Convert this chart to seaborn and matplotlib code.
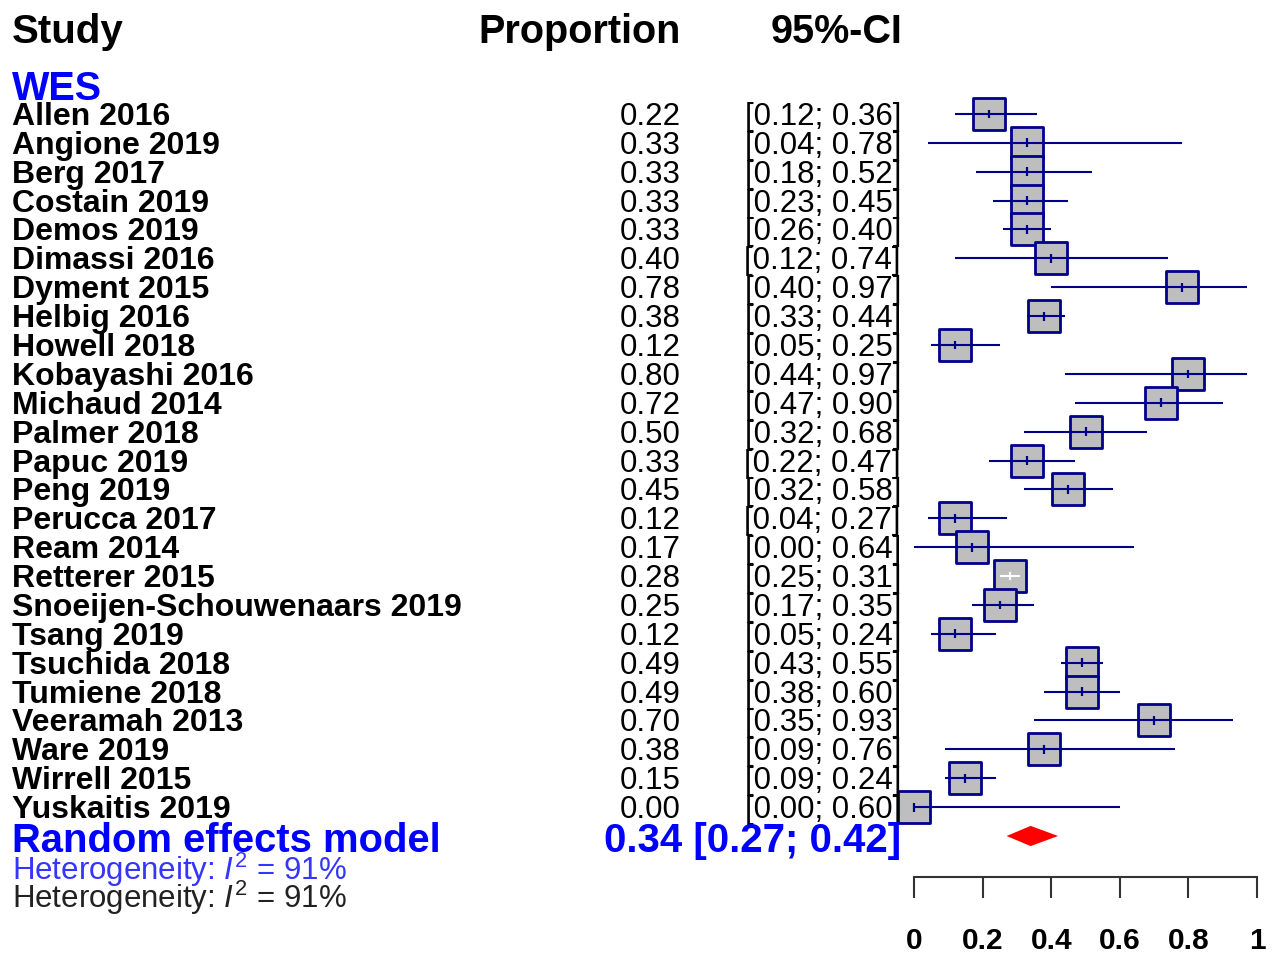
import matplotlib
matplotlib.use("Agg")
import matplotlib.pyplot as plt
import matplotlib.transforms as mtransforms
import seaborn as sns
import pandas as pd
import numpy as np

sns.set_style("white")
plt.rcParams['font.family'] = ['Liberation Sans', 'DejaVu Sans']
plt.rcParams['text.color'] = 'black'
plt.rcParams['xtick.labelcolor'] = 'black'
plt.rcParams['mathtext.fontset'] = 'custom'
plt.rcParams['mathtext.rm'] = 'Liberation Sans'
plt.rcParams['mathtext.it'] = 'Liberation Sans:italic'

# data
studies = ["Allen 2016", "Angione 2019", "Berg 2017", "Costain 2019", "Demos 2019",
           "Dimassi 2016", "Dyment 2015", "Helbig 2016", "Howell 2018", "Kobayashi 2016",
           "Michaud 2014", "Palmer 2018", "Papuc 2019", "Peng 2019", "Perucca 2017",
           "Ream 2014", "Retterer 2015", "Snoeijen-Schouwenaars 2019", "Tsang 2019",
           "Tsuchida 2018", "Tumiene 2018", "Veeramah 2013", "Ware 2019", "Wirrell 2015",
           "Yuskaitis 2019"]
proportion = [0.22, 0.33, 0.33, 0.33, 0.33, 0.40, 0.78, 0.38, 0.12, 0.80, 0.72, 0.50, 0.33,
              0.45, 0.12, 0.17, 0.28, 0.25, 0.12, 0.49, 0.49, 0.70, 0.38, 0.15, 0.00]
ci_lower = [0.12, 0.04, 0.18, 0.23, 0.26, 0.12, 0.40, 0.33, 0.05, 0.44, 0.47, 0.32, 0.22,
            0.32, 0.04, 0.00, 0.25, 0.17, 0.05, 0.43, 0.38, 0.35, 0.09, 0.09, 0.00]
ci_upper = [0.36, 0.78, 0.52, 0.45, 0.40, 0.74, 0.97, 0.44, 0.25, 0.97, 0.90, 0.68, 0.47,
            0.58, 0.27, 0.64, 0.31, 0.35, 0.24, 0.55, 0.60, 0.93, 0.76, 0.24, 0.60]
pooled_est, pooled_lo, pooled_hi = 0.34, 0.27, 0.42
i2_value = 91
subgroup = "WES"
tick_values = [0, 0.2, 0.4, 0.6, 0.8, 1]
tick_labels = ["0", "0.2", "0.4", "0.6", "0.8", "1"]

df = pd.DataFrame({"study": studies, "prop": proportion,
                   "lower": ci_lower, "upper": ci_upper})
df["row"] = np.arange(len(df))
pooled_row = len(df)

W, H = 1273, 956
navy = "#00008B"
blue = "#0000FF"

fig = plt.figure(figsize=(W / 100, H / 100), dpi=100)
ax = fig.add_axes([914 / W, 1 - 877 / H, 343 / W, (877 - 90) / H])
ax.set_xlim(0, 1)
ax.set_ylim(26.42, -0.83)

# box size ~31 px -> half width in data units
half = 31 / 343 / 2
inside = (df["lower"] > df["prop"] - half) & (df["upper"] < df["prop"] + half)
line_col = np.where(inside, "white", navy)

sns.scatterplot(data=df, x="prop", y="row", marker="s", s=500, color="#BEBEBE",
                edgecolor=navy, linewidth=2.0, ax=ax, clip_on=False, zorder=2)
ax.hlines(df["row"], df["lower"], df["upper"], colors=line_col, lw=1.5, zorder=3,
          clip_on=False)
ax.scatter(df["prop"], df["row"], marker="|", s=40, c=line_col, linewidths=1.6,
           zorder=4, clip_on=False)

# pooled estimate diamond
dh = 0.35
ax.fill([pooled_lo, pooled_est, pooled_hi, pooled_est],
        [pooled_row, pooled_row - dh, pooled_row, pooled_row + dh],
        color="red", lw=0, clip_on=False, zorder=3)

for side in ["left", "top", "right"]:
    ax.spines[side].set_visible(False)
ax.spines["bottom"].set_bounds(0, 1)
ax.spines["bottom"].set_color("#333333")
ax.spines["bottom"].set_linewidth(1.5)
ax.set_yticks([])
ax.set_xticks(tick_values, tick_labels)
ax.tick_params(axis="x", bottom=True, direction="out", length=15, width=1.5,
               color="#333333", pad=21, labelsize=21.5)
for lbl in ax.get_xticklabels():
    lbl.set_fontweight("bold")
ax.set_xlabel("")
ax.set_ylabel("")

# text columns
base = mtransforms.blended_transform_factory(fig.transFigure, ax.transData)
row_tr = mtransforms.offset_copy(base, fig=fig, y=-11, units="dots")
pool_tr = mtransforms.offset_copy(base, fig=fig, y=-16, units="dots")

for _, r in df.iterrows():
    ax.text(12 / W, r["row"], r["study"], transform=row_tr, ha="left", va="baseline",
            fontsize=23, fontweight="bold", clip_on=False)
    ax.text(681 / W, r["row"], f"{r['prop']:.2f}", transform=row_tr, ha="right",
            va="baseline", fontsize=22.5, clip_on=False)
    ax.text(901 / W, r["row"], f"[{r['lower']:.2f}; {r['upper']:.2f}]", transform=row_tr,
            ha="right", va="baseline", fontsize=22.5, clip_on=False)

ax.text(12 / W, pooled_row, "Random effects model", transform=pool_tr, ha="left",
        va="baseline", fontsize=28.8, fontweight="bold", color=blue, clip_on=False)
ax.text(901 / W, pooled_row, f"{pooled_est:.2f} [{pooled_lo:.2f}; {pooled_hi:.2f}]",
        transform=pool_tr, ha="right", va="baseline", fontsize=29, fontweight="bold",
        color=blue, clip_on=False)

# headers
fig.text(12 / W, 1 - 43 / H, "Study", ha="left", va="baseline", fontsize=29,
         fontweight="bold")
fig.text(681 / W, 1 - 43 / H, "Proportion", ha="right", va="baseline", fontsize=28.5,
         fontweight="bold")
fig.text(903 / W, 1 - 43 / H, "95%-CI", ha="right", va="baseline", fontsize=28.5,
         fontweight="bold")
fig.text(12 / W, 1 - 100 / H, subgroup, ha="left", va="baseline", fontsize=28.5,
         fontweight="bold", color=blue)

fig.text(12 / W, 1 - 880 / H, f"Heterogeneity: $I^2$ = {i2_value}%", ha="left",
         va="baseline", fontsize=22.5, color="#3535FF")
fig.text(12 / W, 1 - 908 / H, f"Heterogeneity: $I^2$ = {i2_value}%", ha="left",
         va="baseline", fontsize=22.5, color="#222222")

fig.savefig("out.png", dpi=100)
